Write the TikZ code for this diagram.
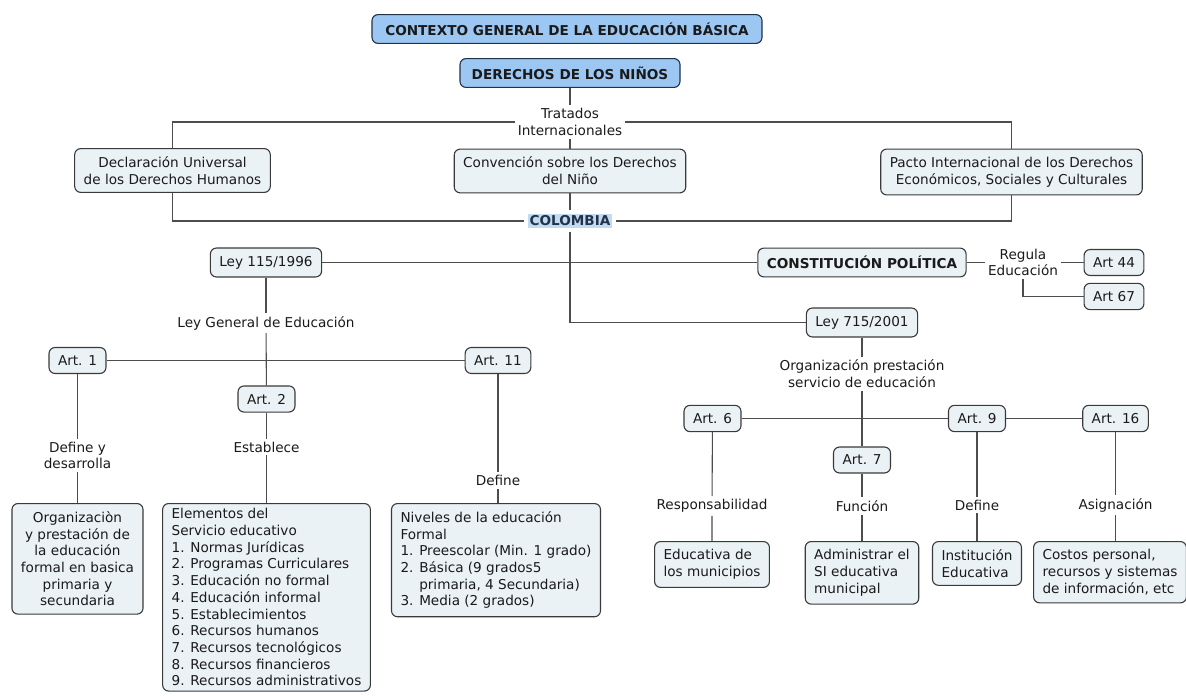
\documentclass[tikz,border=0pt]{standalone}
\usepackage{fontspec}
\setmainfont{DejaVu Sans}
\definecolor{cajafondo}{HTML}{EAF2F6}
\definecolor{cajaborde}{HTML}{3A3A3A}
\definecolor{azulfondo}{HTML}{9CC7F2}
\definecolor{azulborde}{HTML}{22324A}
\definecolor{linea}{HTML}{4D4D4D}
\definecolor{resalte}{HTML}{C3DBF0}
\definecolor{texto}{HTML}{1A1A1A}
\begin{document}
\begin{tikzpicture}[x=1pt,y=-1pt,
		every node/.style={font=\fontsize{13.6}{16.7}\selectfont, text=texto},
		concepto/.style={draw=cajaborde, fill=cajafondo, rounded corners=6pt, line width=1.1pt, inner xsep=9pt, inner ysep=8pt, align=center},
		titulo/.style={concepto, draw=azulborde, fill=azulfondo, font=\fontsize{13.6}{16.7}\selectfont\bfseries},
		enlace/.style={inner sep=3pt, align=center},
		lin/.style={draw=linea, line width=1.1pt}]
		\useasboundingbox (0,0) rectangle (1186,696);
		% arriba
		\node[titulo, minimum width=390pt] (contexto) at (567,29) {CONTEXTO GENERAL DE LA EDUCACIÓN BÁSICA};
		\node[titulo, minimum width=220pt] (derechos) at (570,73) {DERECHOS DE LOS NIÑOS};
		\node[enlace] (tratados) at (570,122) {Tratados\\Internacionales};
		\node[concepto] (declaracion) at (172.5,170.5) {Declaración Universal\\de los Derechos Humanos};
		\node[concepto] (convencion) at (570,171) {Convención sobre los Derechos\\del Niño};
		\node[concepto] (pacto) at (1011.5,172) {Pacto Internacional de los Derechos\\Económicos, Sociales y Culturales};
		\node[enlace, fill=resalte, inner sep=1.5pt, outer sep=4pt, font=\fontsize{13.6}{16.7}\selectfont\bfseries, text=azulborde] (colombia) at (570,221) {COLOMBIA};
		\node[concepto] (ley115) at (266,262.5) {Ley 115/1996};
		\node[concepto, font=\fontsize{13.6}{16.7}\selectfont\bfseries] (constitucion) at (862,262.5) {CONSTITUCIÓN POLÍTICA};
		\node[enlace] (regula) at (1023,262.5) {Regula\\Educación};
		\node[concepto] (art44) at (1114,262.5) {Art 44};
		\node[concepto] (art67) at (1114,296.5) {Art 67};
		\node[concepto] (ley715) at (862,322.5) {Ley 715/2001};
		% Ley 115/1996
		\node[enlace] (leygeneral) at (266,323) {Ley General de Educación};
		\node[concepto] (art1) at (77.5,360.5) {Art. 1};
		\node[concepto] (art2) at (266.5,399) {Art. 2};
		\node[concepto] (art11) at (498,360.5) {Art. 11};
		\node[enlace] (defdes) at (77.5,455.5) {Define y\\desarrolla};
		\node[enlace] (establece) at (266.5,447) {Establece};
		\node[enlace] (define) at (498,480.5) {Define};
		\node[concepto, anchor=north] (organizacion) at (77.5,503) {Organizaciòn\\y prestación de\\la educación\\formal en basica\\primaria y\\secundaria};
		\node[concepto, anchor=north, align=left, inner ysep=5pt] (elementos) at (266.5,503) {Elementos del\\Servicio educativo\\1. Normas Jurídicas\\2. Programas Curriculares\\3. Educación no formal\\4. Educación informal\\5. Establecimientos\\6. Recursos humanos\\7. Recursos tecnológicos\\8. Recursos financieros\\9. Recursos administrativos};
		\node[concepto, anchor=north, align=left] (niveles) at (496,503) {Niveles de la educación\\Formal\\1. Preescolar (Min. 1 grado)\\2. Básica (9 grados5\\\hphantom{2. }primaria, 4 Secundaria)\\3. Media (2 grados)};
		% Ley 715/2001
		\node[enlace] (orgprestacion) at (862,374) {Organización prestación\\servicio de educación};
		\node[concepto] (art6) at (712.5,418.5) {Art. 6};
		\node[concepto] (art7) at (862,460) {Art. 7};
		\node[concepto] (art9) at (977,418.5) {Art. 9};
		\node[concepto] (art16) at (1115.5,418.5) {Art. 16};
		\node[enlace] (responsabilidad) at (712,506) {Responsabilidad};
		\node[enlace] (funcion) at (862,506) {Función};
		\node[enlace] (definedos) at (977,505) {Define};
		\node[enlace] (asignacion) at (1115.5,505) {Asignación};
		\node[concepto, anchor=north, align=left] (educativa) at (712,541) {Educativa de\\los municipios};
		\node[concepto, anchor=north, align=left] (administrar) at (862,541) {Administrar el\\SI educativa\\municipal};
		\node[concepto, anchor=north, align=left] (institucion) at (977,541) {Institución\\Educativa};
		\node[concepto, anchor=north, align=left] (costos) at (1110,541) {Costos personal,\\recursos y sistemas\\de información, etc};
		% conectores
		\draw[lin] (derechos) -- (tratados);
		\draw[lin] (tratados) -- (convencion);
		\draw[lin] (tratados.west) -| (declaracion.north);
		\draw[lin] (tratados.east) -| (pacto.north);
		\draw[lin] (declaracion.south) |- (colombia.west);
		\draw[lin] (pacto.south) |- (colombia.east);
		\draw[lin] (convencion) -- (colombia);
		\draw[lin] (colombia.south) |- (ley715.west);
		\draw[lin] (ley115) -- (constitucion);
		\draw[lin] (constitucion) -- (regula);
		\draw[lin] (regula.east) -- (art44.west);
		\draw[lin] (regula.south) |- (art67.west);
		\draw[lin] (ley115) -- (leygeneral);
		\draw[lin] (leygeneral) -- (art2);
		\draw[lin] (art1) -- (art11);
		\draw[lin] (art1) -- (defdes) -- (organizacion);
		\draw[lin] (art2) -- (establece) -- (elementos);
		\draw[lin] (art11) -- (define) -- (define |- niveles.north);
		\draw[lin] (ley715) -- (orgprestacion) -- (art7);
		\draw[lin] (art6) -- (art9) -- (art16);
		\draw[lin] (art6) -- (responsabilidad) -- (educativa);
		\draw[lin] (art7) -- (funcion) -- (administrar);
		\draw[lin] (art9) -- (definedos) -- (institucion);
		\draw[lin] (art16) -- (asignacion) -- (asignacion |- costos.north);
\end{tikzpicture}
\end{document}
